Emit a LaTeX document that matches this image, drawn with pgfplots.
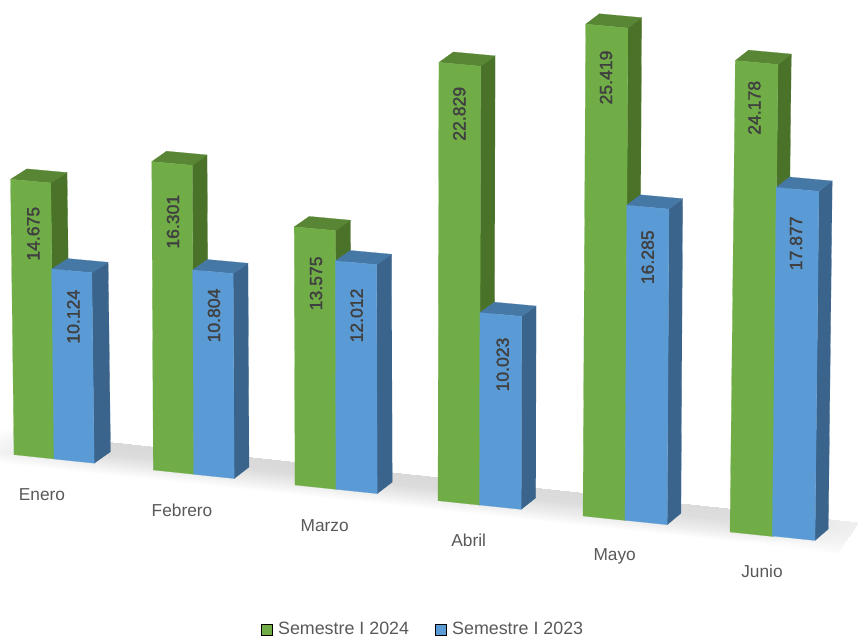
\documentclass[border=0pt]{standalone}
\usepackage{fontspec}
\setmainfont{Liberation Sans}
\newfontfamily\etiqueta[FakeBold=1.8]{Liberation Sans}
\usepackage{pgfplots}
\pgfplotsset{compat=1.18}

\definecolor{verde}{HTML}{70AD47}
\definecolor{verdeTop}{HTML}{588634}
\definecolor{verdeLado}{HTML}{4B7229}
\definecolor{azul}{HTML}{5B9BD5}
\definecolor{azulTop}{HTML}{4678A6}
\definecolor{azulLado}{HTML}{3A648B}
\definecolor{texto}{HTML}{595959}
\definecolor{rotulo}{HTML}{404040}

% Geometry shared by the two columns of a month: width, depth, lean, pixels per unit
\newcommand{\grupo}[4]{%
  \def\anch{#1}\def\prof{#2}\def\incl{#3}\def\esc{#4}}

% One column: base x, base y, value, three face colours, label position
\newcommand{\columna}[8]{%
  \pgfmathsetmacro{\h}{\esc*#3}%
  \pgfmathsetmacro{\xt}{#1+\incl*\h}%
  \pgfmathsetmacro{\yt}{#2-\h}%
  \pgfmathsetmacro{\xbr}{#1+\anch}%
  \pgfmathsetmacro{\ybr}{#2+0.105*\anch}%
  \pgfmathsetmacro{\xtr}{\xt+\anch}%
  \pgfmathsetmacro{\ytr}{\yt+0.092*\anch}%
  \pgfmathsetmacro{\xbb}{\xbr+\prof}%
  \pgfmathsetmacro{\ybb}{\ybr-11.5}%
  \pgfmathsetmacro{\xtb}{\xtr+\prof}%
  \pgfmathsetmacro{\ytb}{\ytr-10.4}%
  \pgfmathsetmacro{\xtl}{\xt+\prof}%
  \pgfmathsetmacro{\ytl}{\yt-10.4}%
  \edef\caras{%
    \noexpand\addplot[forget plot,fill=#5,draw=#5,line width=0.2pt] coordinates
      {(\xbr,\ybr) (\xtr,\ytr) (\xtb,\ytb) (\xbb,\ybb)} --cycle;
    \noexpand\addplot[forget plot,fill=#6,draw=#6,line width=0.2pt] coordinates
      {(\xt,\yt) (\xtr,\ytr) (\xtb,\ytb) (\xtl,\ytl)} --cycle;
    \noexpand\addplot[forget plot,fill=#4,draw=#4,line width=0.2pt] coordinates
      {(#1,#2) (\xbr,\ybr) (\xtr,\ytr) (\xt,\yt)} --cycle;
    \noexpand\node[rotate=90,text=rotulo,font=\noexpand\etiqueta\noexpand\fontsize{17.6}{20}\noexpand\selectfont]
      at (axis cs:#7,#8) {#3};
  }%
  \caras
}
\newcommand{\mes}[3]{\node[text=texto,font=\fontsize{17.3}{20}\selectfont] at (axis cs:#1,#2) {#3};}

\begin{document}
\begin{tikzpicture}
\useasboundingbox (0pt,0pt) rectangle (858pt,638pt);
\begin{axis}[
  at={(0pt,0pt)}, anchor=south west,
  scale only axis, width=858pt, height=638pt,
  xmin=0, xmax=858, ymin=0, ymax=638, y dir=reverse,
  hide axis, clip=false,
  colormap={grises}{gray(0cm)=(0); gray(1cm)=(1)},
  point meta min=0, point meta max=1,
  legend columns=2,
  legend cell align=left,
  legend style={
    draw=none, fill=none, inner sep=0pt, outer sep=0pt,
    anchor=west, at={(axis cs:261,629.5)},
    font=\fontsize{17.85}{20}\selectfont, text=texto,
    nodes={inner xsep=6pt},
    /tikz/every even column/.append style={column sep=20pt},
  },
  legend image code/.code={\fill[#1] (4pt,-5.6pt) rectangle (14.7pt,5.6pt);},
]
% Floor of the chart, grey at the back and fading towards the viewer
\addplot[forget plot, surf, shader=interp, mesh/cols=6, point meta=\thisrow{g}]
  table[x expr={858*\thisrow{u}-21*\thisrow{u}*\thisrow{v}},
        y expr={430+92*\thisrow{u}+\thisrow{v}*(33-2*\thisrow{u})}] {
  u    v    g
  0    0    1.00
  0.04 0    0.93
  0.12 0    0.85
  0.5  0    0.85
  0.88 0    0.86
  1    0    0.94
  0    0.35 0.97
  0.04 0.35 0.91
  0.12 0.35 0.86
  0.5  0.35 0.86
  0.88 0.35 0.87
  1    0.35 0.94
  0    0.7  0.95
  0.04 0.7  0.94
  0.12 0.7  0.93
  0.5  0.7  0.93
  0.88 0.7  0.93
  1    0.7  0.96
  0    1    1.00
  0.04 1    1.00
  0.12 1    1.00
  0.5  1    1.00
  0.88 1    1.00
  1    1    0.99
};

\grupo{40.2}{16.3}{-0.0125}{18.77}
\columna{14}{454.7}{14.675}{verde}{verdeLado}{verdeTop}{33.3}{233.7}
\columna{54}{459}{10.124}{azul}{azulLado}{azulTop}{73.3}{316.7}
\mes{42}{495}{Enero}

\grupo{40.5}{14.8}{-0.005}{18.92}
\columna{153.3}{470}{16.301}{verde}{verdeLado}{verdeTop}{173}{221.7}
\columna{193.7}{474.3}{10.804}{azul}{azulLado}{azulTop}{214}{315.5}
\mes{182}{510.7}{Febrero}

\grupo{41.2}{15}{-0.003}{19.02}
\columna{295}{485}{13.575}{verde}{verdeLado}{verdeTop}{316}{283.3}
\columna{336}{489.3}{12.012}{azul}{azulLado}{azulTop}{356.7}{315.5}
\mes{324.7}{525.7}{Marzo}

\grupo{41.7}{14.5}{0.002}{19.2}
\columna{438}{500.7}{22.829}{verde}{verdeLado}{verdeTop}{459.3}{113.8}
\columna{479.5}{505}{10.023}{azul}{azulLado}{azulTop}{502.7}{364.5}
\mes{468.7}{540}{Abril}

\grupo{42.2}{13.7}{0.0055}{19.35}
\columna{583}{516}{25.419}{verde}{verdeLado}{verdeTop}{606}{77.5}
\columna{625}{520.3}{16.285}{azul}{azulLado}{azulTop}{647.7}{257.2}
\mes{614.7}{556}{Mayo}

\grupo{42.7}{13.3}{0.0112}{19.5}
\columna{730}{532}{24.178}{verde}{verdeLado}{verdeTop}{754.3}{107.8}
\columna{772.3}{536}{17.877}{azul}{azulLado}{azulTop}{796}{243.3}
\mes{762}{571.7}{Junio}

\addlegendimage{fill=verde}
\addlegendentry{Semestre I 2024}
\addlegendimage{fill=azul}
\addlegendentry{Semestre I 2023}
\end{axis}
\end{tikzpicture}
\end{document}
